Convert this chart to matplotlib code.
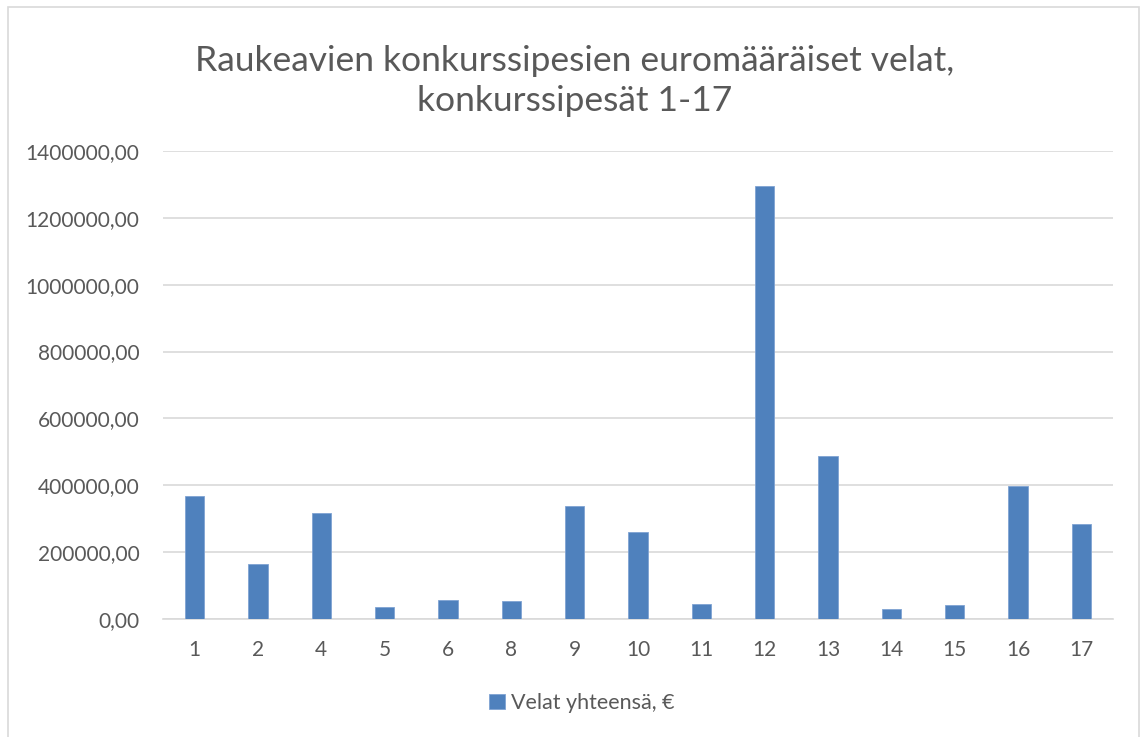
import matplotlib.pyplot as plt
from matplotlib.patches import Rectangle
from matplotlib.ticker import FuncFormatter

# Konkurssipesät ja velat
categories = ['1', '2', '4', '5', '6', '8', '9', '10', '11', '12', '13', '14', '15', '16', '17']
velat = [369000, 164000, 318000, 34600, 57600, 52500, 337300, 259700, 44800,
         1296400, 487500, 30700, 41800, 397000, 283600]

title = 'Raukeavien konkurssipesien euromääräiset velat,\nkonkurssipesät 1-17'
legend_label = 'Velat yhteensä, €'

plt.rcParams['font.family'] = ['Lato', 'DejaVu Sans']
text_color = '#595959'

fig = plt.figure(figsize=(11.43, 7.37), dpi=100)
fig.patches.append(Rectangle((8 / 1143, -0.01), 1131 / 1143, 1 - 7 / 737 + 0.01,
                             transform=fig.transFigure, fill=False,
                             edgecolor='#D9D9D9', linewidth=1.2))

ax = fig.add_axes([163 / 1143, 1 - 619 / 737, 950 / 1143, 468 / 737])
x = range(len(categories))
ax.bar(x, velat, width=0.31, color='#4F81BD', edgecolor='#7FA3D3', linewidth=0.6,
       label=legend_label, zorder=3)

ax.set_xlim(-0.5, len(categories) - 0.5)
ax.set_ylim(0, 1400000)
ax.set_yticks(range(0, 1400001, 200000))
ax.yaxis.set_major_formatter(FuncFormatter(lambda v, p: f'{int(v)},00'))
ax.set_xticks(list(x))
ax.set_xticklabels(categories)

ax.grid(axis='y', color='#D9D9D9', linewidth=1.2, zorder=0)
for s in ['top', 'right', 'left']:
    ax.spines[s].set_visible(False)
ax.spines['bottom'].set_color('#D9D9D9')
ax.spines['bottom'].set_linewidth(1.2)
ax.tick_params(axis='both', length=0, labelsize=15, colors=text_color)
ax.tick_params(axis='y', pad=17)
ax.tick_params(axis='x', pad=15)

fig.text(575 / 1143, 1 - 81 / 737, title, ha='center', va='center', fontsize=25.5,
         color=text_color, linespacing=1.3)

handles, labels = ax.get_legend_handles_labels()
fig.legend(handles, labels, loc='center', bbox_to_anchor=(582 / 1143, 1 - 703 / 737),
           frameon=False, fontsize=15.5, labelcolor=text_color, handlelength=0.7,
           handleheight=0.7, handletextpad=0.3)

fig.savefig('out.png', dpi=100)
